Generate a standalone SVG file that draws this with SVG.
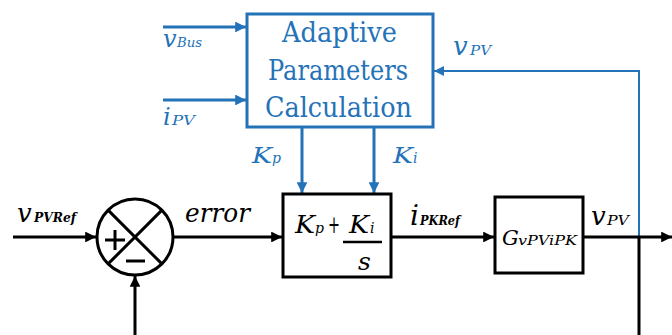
<svg xmlns="http://www.w3.org/2000/svg" width="672" height="335" viewBox="0 0 672 335">
<defs>
<style>
.bl{stroke:#000;stroke-width:3;fill:none}
.bu{stroke:#2472b8;stroke-width:3;fill:none}
.bu2{stroke:#2472b8;stroke-width:2;fill:none}
.box{stroke:#000;stroke-width:3;fill:#fff}
.ubox{stroke:#2472b8;stroke-width:3;fill:#fff}
text{font-family:'DejaVu Serif',serif}
.it{font-style:italic}
.blue{fill:#2472b8}
</style>
<marker id="ab" viewBox="0 0 10 10" refX="10" refY="5" markerWidth="4.8" markerHeight="3.6" orient="auto" markerUnits="strokeWidth"><path d="M0,0 L10,5 L0,10 Z" fill="#000"/></marker>
<marker id="au" viewBox="0 0 10 10" refX="10" refY="5" markerWidth="4.8" markerHeight="3.6" orient="auto" markerUnits="strokeWidth"><path d="M0,0 L10,5 L0,10 Z" fill="#2472b8"/></marker>
<marker id="au2" viewBox="0 0 10 10" refX="10" refY="5" markerWidth="6.5" markerHeight="5" orient="auto" markerUnits="strokeWidth"><path d="M0,0 L10,5 L0,10 Z" fill="#2472b8"/></marker>
</defs>
<rect width="672" height="335" fill="#fff"/>

<g id="connectors">
<line class="bu" x1="163" y1="27" x2="246" y2="27" marker-end="url(#au)"/>
<line class="bu" x1="163" y1="100" x2="246" y2="100" marker-end="url(#au)"/>
<line class="bu" x1="302" y1="128" x2="302" y2="193" marker-end="url(#au)"/>
<line class="bu" x1="374" y1="128" x2="374" y2="193" marker-end="url(#au)"/>
<polyline class="bu2" points="639,237 639,71 434,71" marker-end="url(#au2)"/>
<line class="bl" x1="13" y1="237" x2="96" y2="237" marker-end="url(#ab)"/>
<line class="bl" x1="173" y1="237" x2="282" y2="237" marker-end="url(#ab)"/>
<line class="bl" x1="391" y1="237" x2="494" y2="237" marker-end="url(#ab)"/>
<line class="bl" x1="583" y1="237" x2="672" y2="237" marker-end="url(#ab)"/>
<line class="bl" x1="639" y1="237" x2="639" y2="335"/>
<line class="bl" x1="135" y1="335" x2="135" y2="276" marker-end="url(#ab)"/>
</g>

<g id="adaptive">
<rect class="ubox" x="247" y="14" width="186" height="113"/>
<text class="blue" x="282" y="42" font-size="27" textLength="115" lengthAdjust="spacingAndGlyphs">Adaptive</text>
<text class="blue" x="268" y="80" font-size="27" textLength="140" lengthAdjust="spacingAndGlyphs">Parameters</text>
<text class="blue" x="265" y="117" font-size="27" textLength="147" lengthAdjust="spacingAndGlyphs">Calculation</text>
</g>

<g id="sum">
<circle cx="135" cy="237" r="38" class="bl" fill="#fff"/>
<line class="bl" x1="108.1" y1="210.1" x2="161.9" y2="263.9"/>
<line class="bl" x1="161.9" y1="210.1" x2="108.1" y2="263.9"/>
<line class="bl" x1="105" y1="240" x2="125" y2="240"/>
<line class="bl" x1="115" y1="230" x2="115" y2="250"/>
<line class="bl" x1="126" y1="261" x2="145" y2="261"/>
</g>

<g id="pi">
<rect class="box" x="283" y="194" width="108" height="83"/>
<text class="it" x="295" y="233" font-size="24" textLength="20" lengthAdjust="spacingAndGlyphs">K</text>
<text class="it" x="315" y="233" font-size="14">p</text>
<text x="328" y="233" font-size="24" textLength="12" lengthAdjust="spacingAndGlyphs">+</text>
<text class="it" x="349" y="233" font-size="24" textLength="20" lengthAdjust="spacingAndGlyphs">K</text>
<text class="it" x="370" y="233" font-size="14">i</text>
<line x1="343" y1="242" x2="382" y2="242" stroke="#000" stroke-width="2.5"/>
<text class="it" x="358" y="270" font-size="25">s</text>
</g>

<g id="plant">
<rect class="box" x="495" y="197" width="88" height="76"/>
<text class="it" x="502" y="245" font-size="21">G</text>
<text class="it" x="518" y="245" font-size="12" textLength="59" lengthAdjust="spacingAndGlyphs">vPViPK</text>
</g>

<g id="labels">
<text class="it blue" x="163" y="47" font-size="24">v</text>
<text class="it blue" x="177" y="47" font-size="12" textLength="25" lengthAdjust="spacingAndGlyphs">Bus</text>
<text class="it blue" x="163" y="125" font-size="24">i</text>
<text class="it blue" x="172" y="125" font-size="12" textLength="23" lengthAdjust="spacingAndGlyphs">PV</text>
<text class="it blue" x="252" y="163" font-size="23" textLength="20" lengthAdjust="spacingAndGlyphs">K</text>
<text class="it blue" x="272" y="163" font-size="14">p</text>
<text class="it blue" x="393" y="163" font-size="23" textLength="20" lengthAdjust="spacingAndGlyphs">K</text>
<text class="it blue" x="413" y="163" font-size="14">i</text>
<text class="it blue" x="453" y="55" font-size="26">v</text>
<text class="it blue" x="470" y="55" font-size="13" textLength="21" lengthAdjust="spacingAndGlyphs">PV</text>
<text class="it" x="17" y="222" font-size="26">v</text>
<text class="it" x="34" y="222" font-size="12" font-weight="bold" textLength="42" lengthAdjust="spacingAndGlyphs">PVRef</text>
<text class="it" x="185" y="222" font-size="26" textLength="65" lengthAdjust="spacingAndGlyphs">error</text>
<text class="it" x="410" y="225" font-size="28">i</text>
<text class="it" x="420" y="225" font-size="12" font-weight="bold" textLength="40" lengthAdjust="spacingAndGlyphs">PKRef</text>
<text class="it" x="591" y="225" font-size="26">v</text>
<text class="it" x="607" y="225" font-size="13" textLength="22" lengthAdjust="spacingAndGlyphs">PV</text>
</g>
</svg>
